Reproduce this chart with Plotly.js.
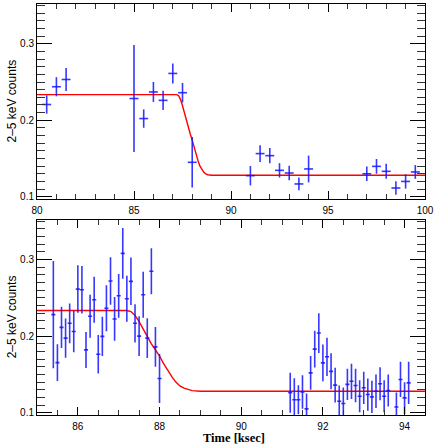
<!DOCTYPE html>
<html>
<head>
<meta charset="utf-8">
<script src="https://cdn.plot.ly/plotly-3.0.1.min.js"></script>
<style>html,body{margin:0;padding:0;background:#fff;}#chart{width:436px;height:444px;}</style>
</head>
<body>
<div id="chart"></div>
<script>
// Top panel: 0.5 ksec bins
const topTime = [80.5, 81.0, 81.5, 85.0, 85.5, 86.0, 86.5, 87.0, 87.5, 88.0,
                 91.0, 91.5, 92.0, 92.5, 93.0, 93.5, 94.0,
                 97.0, 97.5, 98.0, 98.5, 99.0, 99.5];
const topRate = [0.2206, 0.2438, 0.2533, 0.2284, 0.2022, 0.237, 0.226, 0.2612, 0.236, 0.145,
                 0.1275, 0.1564, 0.1537, 0.1345, 0.131, 0.1167, 0.1363,
                 0.130, 0.1397, 0.1332, 0.1114, 0.120, 0.1324];
const topErr  = [0.012, 0.0125, 0.015, 0.070, 0.012, 0.013, 0.0125, 0.013, 0.0127, 0.033,
                 0.0127, 0.011, 0.010, 0.0094, 0.0096, 0.0083, 0.0175,
                 0.0094, 0.0096, 0.0098, 0.0087, 0.0094, 0.009];
const topBinHalf = 0.23;

// Bottom panel: 0.1 ksec bins
const botTime = [85.4, 85.5, 85.6, 85.7, 85.8, 85.9, 86.0, 86.1, 86.2, 86.3, 86.4, 86.5, 86.6, 86.7,
                 86.8, 86.9, 87.0, 87.1, 87.2, 87.3, 87.4, 87.5, 87.6, 87.7, 87.8, 87.9, 88.0,
                 91.2, 91.3, 91.4, 91.5, 91.6, 91.7, 91.8, 91.9, 92.0, 92.1, 92.2, 92.3, 92.4,
                 92.5, 92.6, 92.7, 92.8, 92.9, 93.0, 93.1, 93.2, 93.3, 93.4, 93.5, 93.6,
                 93.8, 93.9, 94.0, 94.1];
const botRate = [0.228, 0.1654, 0.2114, 0.1974, 0.2167, 0.206, 0.2614, 0.2605, 0.182, 0.226, 0.2474, 0.1763, 0.1996, 0.2364,
                 0.272, 0.2224, 0.2526, 0.308, 0.2487, 0.2715, 0.2167, 0.200, 0.254, 0.1974, 0.2846, 0.186, 0.1447,
                 0.126, 0.117, 0.117, 0.127, 0.105, 0.152, 0.183, 0.204, 0.165, 0.173, 0.154, 0.136, 0.115,
                 0.112, 0.137, 0.141, 0.1355, 0.1215, 0.1325, 0.1237, 0.1206, 0.128, 0.1378, 0.1215, 0.129,
                 0.1075, 0.1434, 0.1193, 0.139];
const botErr  = [0.070, 0.024, 0.027, 0.0257, 0.026, 0.027, 0.031, 0.031, 0.0235, 0.028, 0.030, 0.025, 0.0257, 0.030,
                 0.031, 0.0285, 0.0285, 0.033, 0.030, 0.031, 0.025, 0.026, 0.030, 0.026, 0.030, 0.026, 0.032,
                 0.026, 0.028, 0.019, 0.022, 0.020, 0.022, 0.024, 0.026, 0.024, 0.025, 0.0235, 0.0228, 0.0206,
                 0.021, 0.0205, 0.023, 0.022, 0.021, 0.021, 0.021, 0.021, 0.022, 0.0215, 0.021, 0.021,
                 0.019, 0.023, 0.0206, 0.0276];
const botBinHalf = 0.05;

// Model (red curve)
const modelTime = [80, 87.2, 87.3, 87.4, 87.5, 87.6, 87.7, 87.8, 87.9, 88.0, 88.1, 88.2, 88.3, 88.4, 88.5, 88.6, 88.7, 88.8, 89.0, 100];
const modelRate = [0.2335, 0.2335, 0.232, 0.227, 0.219, 0.209, 0.199, 0.190, 0.182, 0.174, 0.164, 0.155, 0.147, 0.140, 0.135, 0.132, 0.130, 0.1288, 0.128, 0.128];

const yTitle = '2\u20135 keV counts';
const xTitle = 'Time [ksec]';

const dataColor = 'rgba(20,20,255,0.85)';
function dataTrace(t, r, e, h, xa, ya) {
  return {
    x: t, y: r, xaxis: xa, yaxis: ya, type: 'scatter', mode: 'markers',
    marker: {size: 1, color: 'rgba(0,0,0,0)'},
    error_y: {type: 'data', array: e, visible: true, color: dataColor, thickness: 1.6, width: 0},
    error_x: {type: 'constant', value: h, visible: true, color: dataColor, thickness: 1.6, width: 0},
    showlegend: false, hoverinfo: 'skip'
  };
}
function modelTrace(xa, ya) {
  return {x: modelTime, y: modelRate, xaxis: xa, yaxis: ya, type: 'scatter', mode: 'lines',
          line: {color: '#ff0000', width: 1.4}, showlegend: false, hoverinfo: 'skip'};
}

const tickFont = {family: 'Liberation Sans, Arial, sans-serif', size: 10, color: '#000'};
function xAxis(range, dtick, minor, domainAnchor) {
  return {
    range: range, dtick: dtick, tick0: 0, ticks: 'inside', ticklen: 8, tickwidth: 1, tickcolor: '#000',
    minor: {dtick: minor, tick0: 0, ticks: 'inside', ticklen: 5, tickwidth: 1, tickcolor: '#333', showgrid: false},
    showline: true, linecolor: '#000', linewidth: 1, mirror: 'ticks', showgrid: false, zeroline: false,
    tickfont: tickFont, anchor: domainAnchor, automargin: false, ticklabelstandoff: 2
  };
}
function yAxis(domain, anchor) {
  return {
    domain: domain, range: [0.097, 0.352], dtick: 0.1, tick0: 0, ticks: 'inside', ticklen: 15, tickwidth: 1, tickcolor: '#000',
    minor: {dtick: 0.01, tick0: 0, ticks: 'inside', ticklen: 8, tickwidth: 1, tickcolor: '#333', showgrid: false},
    showline: true, linecolor: '#000', linewidth: 1, mirror: 'ticks', showgrid: false, zeroline: false,
    tickfont: tickFont, tickformat: '.1f', anchor: anchor, automargin: false
  };
}

const plotW = 436 - 37 - 11;
const plotH = 444 - 4 - 29;
const titleX = (12 - 37) / plotW;
const yTitleFont = {family: 'Liberation Sans, Arial, sans-serif', size: 12, color: '#000'};

const layout = {
  width: 436, height: 444,
  margin: {l: 37, r: 11, t: 4, b: 29},
  paper_bgcolor: '#fff', plot_bgcolor: '#fff',
  xaxis: xAxis([80, 100], 5, 1, 'y'),
  yaxis: yAxis([0.5255, 1], 'x'),
  xaxis2: xAxis([85, 94.5], 2, 0.5, 'y2'),
  yaxis2: yAxis([0, 0.4752], 'x2'),
  annotations: [
    {text: yTitle, xref: 'paper', yref: 'paper', x: titleX, y: (0.5255 + 1) / 2, xanchor: 'center', yanchor: 'middle',
     textangle: -90, showarrow: false, font: yTitleFont},
    {text: yTitle, xref: 'paper', yref: 'paper', x: titleX, y: 0.4752 / 2, xanchor: 'center', yanchor: 'middle',
     textangle: -90, showarrow: false, font: yTitleFont},
    {text: '<b>' + xTitle + '</b>', xref: 'paper', yref: 'paper', x: (234 - 37) / plotW, y: (415 - 438) / plotH,
     xanchor: 'center', yanchor: 'middle', showarrow: false,
     font: {family: 'Liberation Serif, Times New Roman, serif', size: 12.5, color: '#000'}}
  ],
  showlegend: false
};

const traces = [
  modelTrace('x', 'y'),
  dataTrace(topTime, topRate, topErr, topBinHalf, 'x', 'y'),
  modelTrace('x2', 'y2'),
  dataTrace(botTime, botRate, botErr, botBinHalf, 'x2', 'y2')
];

Plotly.newPlot('chart', traces, layout, {staticPlot: true, displayModeBar: false});
</script>
</body>
</html>
